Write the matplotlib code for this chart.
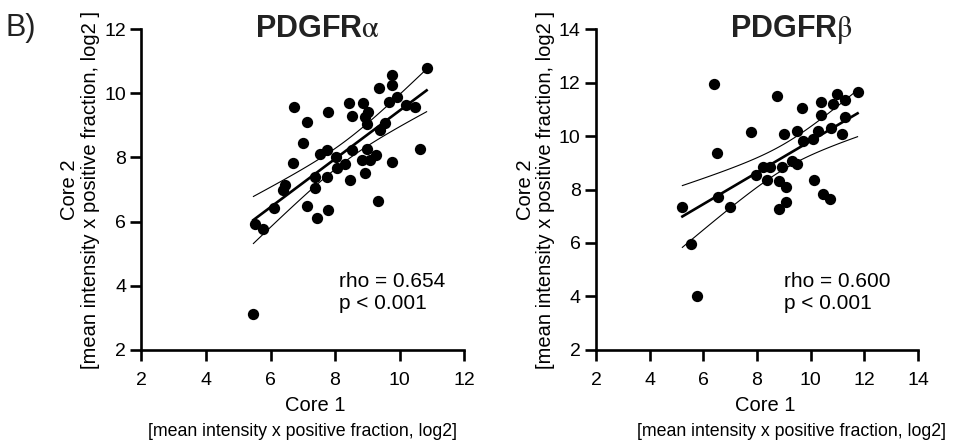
import numpy as np
import matplotlib
matplotlib.use("Agg")
import matplotlib.pyplot as plt

plt.rcParams["font.family"] = ["Liberation Sans", "DejaVu Sans"]
plt.rcParams["mathtext.fontset"] = "stix"

# PDGFR-alpha: Core 1 vs Core 2 (log2)
alpha_core1 = [10.84, 9.76, 9.78, 9.37, 9.91, 9.68, 10.20, 10.48, 6.74, 7.79,
               8.44, 8.88, 8.52, 9.03, 8.93, 9.00, 9.55, 9.40, 7.12, 7.02,
               7.53, 7.74, 8.54, 9.00, 9.27, 8.85, 9.09, 9.76, 10.64, 6.71,
               8.02, 8.31, 8.05, 7.74, 7.38, 7.38, 8.47, 8.93, 6.45, 6.40,
               6.12, 7.12, 7.79, 7.45, 9.34, 5.52, 5.78, 5.47]
alpha_core2 = [10.78, 10.57, 10.26, 10.15, 9.87, 9.73, 9.63, 9.58, 9.58, 9.42,
               9.70, 9.70, 9.29, 9.42, 9.25, 9.04, 9.06, 8.85, 9.11, 8.44,
               8.11, 8.23, 8.23, 8.25, 8.07, 7.92, 7.92, 7.87, 8.26, 7.84,
               8.02, 7.81, 7.66, 7.40, 7.40, 7.05, 7.30, 7.50, 7.14, 6.98,
               6.41, 6.50, 6.36, 6.12, 6.64, 5.93, 5.77, 3.12]

# PDGFR-beta
beta_core1 = [6.41, 8.76, 9.67, 10.37, 10.97, 11.28, 10.84, 11.75, 10.37, 11.28,
              7.77, 9.01, 9.48, 10.29, 10.75, 11.16, 9.70, 10.10, 6.50, 8.21,
              8.49, 8.94, 9.29, 9.48, 7.95, 8.38, 8.83, 9.10, 10.14, 10.47,
              10.72, 8.83, 9.10, 6.54, 7.00, 5.22, 5.53, 5.75]
beta_core2 = [11.93, 11.50, 11.06, 11.28, 11.57, 11.35, 11.20, 11.66, 10.79, 10.70,
              10.16, 10.06, 10.20, 10.20, 10.29, 10.07, 9.83, 9.87, 9.35, 8.85,
              8.85, 8.85, 9.07, 8.94, 8.54, 8.36, 8.32, 8.11, 8.36, 7.85,
              7.63, 7.27, 7.52, 7.73, 7.33, 7.33, 5.96, 4.02]

titles = [r"PDGFR$\mathrm{\alpha}$", r"PDGFR$\mathrm{\beta}$"]
rho_txt = ["rho = 0.654", "rho = 0.600"]
p_txt = ["p < 0.001", "p < 0.001"]
xlims = [(2, 12), (2, 14)]
ylims = [(2, 12), (2, 14)]


def fit_with_band(x, y):
    # linear fit + 95% confidence band of the mean
    x = np.asarray(x); y = np.asarray(y)
    n = len(x)
    b, a = np.polyfit(x, y, 1)
    xs = np.linspace(x.min(), x.max(), 100)
    yhat = a + b * xs
    resid = y - (a + b * x)
    s = np.sqrt(np.sum(resid ** 2) / (n - 2))
    sxx = np.sum((x - x.mean()) ** 2)
    half = 2.01 * s * np.sqrt(1.0 / n + (xs - x.mean()) ** 2 / sxx)
    return xs, yhat, yhat - half, yhat + half


fig = plt.figure(figsize=(9.56, 4.45), dpi=100)
ax1 = fig.add_axes([0.148, 0.2135, 0.3374, 0.7213])
ax2 = fig.add_axes([0.6234, 0.2135, 0.3368, 0.7213])

data = [(alpha_core1, alpha_core2), (beta_core1, beta_core2)]
title_x = [0.544, 0.606]
core1_x = [0.538, 0.525]
bracket_x = [0.5, 0.606]
stat_x = [0.612, 0.584]
ylab_core = [-0.222, -0.220]
ylab_brk = [-0.157, -0.158]

for i, ax in enumerate([ax1, ax2]):
    x, y = data[i]
    ax.scatter(x, y, s=66, color="black", zorder=3, linewidths=0)
    xs, yhat, lo, hi = fit_with_band(x, y)
    ax.plot(xs, yhat, color="black", lw=1.9, zorder=4)
    ax.plot(xs, lo, color="black", lw=0.8, zorder=4)
    ax.plot(xs, hi, color="black", lw=0.8, zorder=4)

    ax.set_xlim(*xlims[i]); ax.set_ylim(*ylims[i])
    ax.set_xticks(np.arange(xlims[i][0], xlims[i][1] + 1, 2))
    ax.set_yticks(np.arange(ylims[i][0], ylims[i][1] + 1, 2))
    for sp in ["top", "right"]:
        ax.spines[sp].set_visible(False)
    for sp in ["left", "bottom"]:
        ax.spines[sp].set_linewidth(1.9)
    ax.tick_params(direction="out", length=8, width=1.9, labelsize=14,
                   colors="black")
    ax.tick_params(axis="x", pad=8)
    ax.tick_params(axis="y", pad=3)

    ax.text(title_x[i], 0.975, titles[i], transform=ax.transAxes,
            ha="center", va="baseline", fontsize=22, fontweight="bold",
            color="#222222")
    ax.text(stat_x[i], 0.196, rho_txt[i], transform=ax.transAxes,
            ha="left", va="baseline", fontsize=15)
    ax.text(stat_x[i], 0.127, p_txt[i], transform=ax.transAxes,
            ha="left", va="baseline", fontsize=15)

    ax.text(core1_x[i], -0.174, "Core 1", transform=ax.transAxes,
            ha="center", va="center", fontsize=14.5)
    ax.text(bracket_x[i], -0.253, "[mean intensity x positive fraction, log2]",
            transform=ax.transAxes, ha="center", va="center", fontsize=12.8)

    ax.text(ylab_core[i], 0.5, "Core 2", transform=ax.transAxes, rotation=90,
            ha="center", va="center", fontsize=14.5)
    ax.text(ylab_brk[i], 0.5, "[mean intensity x positive fraction, log2 ]",
            transform=ax.transAxes, rotation=90, ha="center", va="center",
            fontsize=14.5)

fig.text(0.006, 0.918, "B)", fontsize=22, ha="left", va="baseline",
         color="#222222")

fig.savefig("out.png", dpi=100)
